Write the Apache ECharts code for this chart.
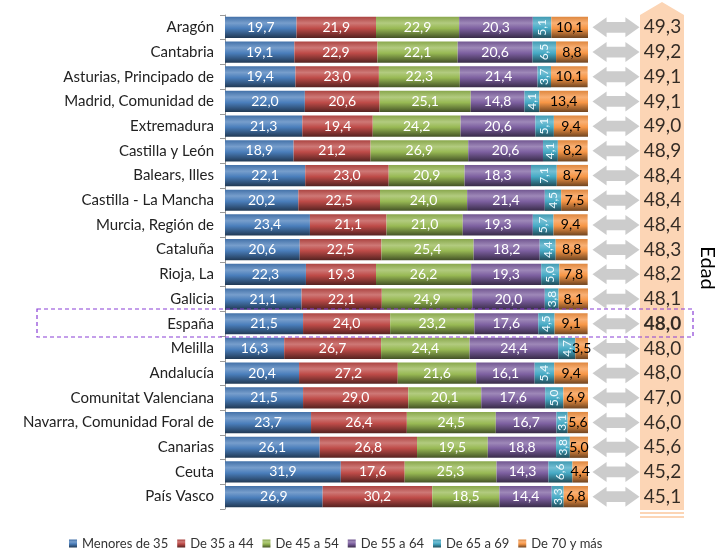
<!DOCTYPE html>
<html>
<head>
<meta charset="utf-8">
<script src="https://cdn.jsdelivr.net/npm/echarts@6/dist/echarts.min.js"></script>
<style>
html, body { margin: 0; padding: 0; background: #fff; }
#chart { width: 725px; height: 551px; }
</style>
</head>
<body>
<div id="chart"></div>
<script>
// datos por comunidad (% de cada grupo de edad) y edad media
const regiones = ['Aragón', 'Cantabria', 'Asturias, Principado de', 'Madrid, Comunidad de', 'Extremadura',
    'Castilla y León', 'Balears, Illes', 'Castilla - La Mancha', 'Murcia, Región de', 'Cataluña',
    'Rioja, La', 'Galicia', 'España', 'Melilla', 'Andalucía', 'Comunitat Valenciana',
    'Navarra, Comunidad Foral de', 'Canarias', 'Ceuta', 'País Vasco'];
const menores35 = [19.7, 19.1, 19.4, 22.0, 21.3, 18.9, 22.1, 20.2, 23.4, 20.6, 22.3, 21.1, 21.5, 16.3, 20.4, 21.5, 23.7, 26.1, 31.9, 26.9];
const de35a44   = [21.9, 22.9, 23.0, 20.6, 19.4, 21.2, 23.0, 22.5, 21.1, 22.5, 19.3, 22.1, 24.0, 26.7, 27.2, 29.0, 26.4, 26.8, 17.6, 30.2];
const de45a54   = [22.9, 22.1, 22.3, 25.1, 24.2, 26.9, 20.9, 24.0, 21.0, 25.4, 26.2, 24.9, 23.2, 24.4, 21.6, 20.1, 24.5, 19.5, 25.3, 18.5];
const de55a64   = [20.3, 20.6, 21.4, 14.8, 20.6, 20.6, 18.3, 21.4, 19.3, 18.2, 19.3, 20.0, 17.6, 24.4, 16.1, 17.6, 16.7, 18.8, 14.3, 14.4];
const de65a69   = [5.1, 6.5, 3.7, 4.1, 5.1, 4.1, 7.1, 4.5, 5.7, 4.4, 5.0, 3.8, 4.5, 4.7, 5.4, 5.0, 3.1, 3.8, 6.6, 3.3];
const de70ymas  = [10.1, 8.8, 10.1, 13.4, 9.4, 8.2, 8.7, 7.5, 9.4, 8.8, 7.8, 8.1, 9.1, 3.5, 9.4, 6.9, 5.6, 5.0, 4.4, 6.8];
const edad      = [49.3, 49.2, 49.1, 49.1, 49.0, 48.9, 48.4, 48.4, 48.4, 48.3, 48.2, 48.1, 48.0, 48.0, 48.0, 47.0, 46.0, 45.6, 45.2, 45.1];

const grupos = ['Menores de 35', 'De 35 a 44', 'De 45 a 54', 'De 55 a 64', 'De 65 a 69', 'De 70 y más'];
const valores = [menores35, de35a44, de45a54, de55a64, de65a69, de70ymas];
const colores = ['#4a7ebb', '#be4b48', '#98b954', '#7d60a0', '#46aac5', '#f79646'];

const fuente = 'Lato';
const coma = v => v.toFixed(1).replace('.', ',');

function mezcla(hex, t, con) {
    const c = parseInt(hex.slice(1), 16);
    let r = c >> 16, g = (c >> 8) & 255, b = c & 255;
    r = Math.round(r + (con - r) * t);
    g = Math.round(g + (con - g) * t);
    b = Math.round(b + (con - b) * t);
    return 'rgb(' + r + ',' + g + ',' + b + ')';
}

function brillo(hex) {
    return new echarts.graphic.LinearGradient(0, 0, 0, 1, [
        { offset: 0, color: mezcla(hex, 0.1, 0) },
        { offset: 0.3, color: mezcla(hex, 0.25, 255) },
        { offset: 0.55, color: hex },
        { offset: 1, color: mezcla(hex, 0.55, 0) }
    ]);
}

const chart = echarts.init(document.getElementById('chart'));

const seriesBarras = grupos.map((g, i) => ({
    name: g,
    type: 'bar',
    stack: 'total',
    xAxisIndex: 0,
    yAxisIndex: 0,
    barCategoryGap: '14%',
    data: valores[i],
    itemStyle: { color: brillo(colores[i]) },
    label: {
        show: true,
        position: 'inside',
        formatter: p => coma(p.value),
        fontFamily: fuente,
        fontSize: i === 4 ? 12 : 14,
        rotate: i === 4 ? 90 : 0,
        color: i === 5 ? '#000' : (i === 4 ? '#eefaff' : '#fff')
    }
}));

const flecha = 'path://M0,5 L6,0 L6,2.3 L14,2.3 L14,0 L20,5 L14,10 L14,7.7 L6,7.7 L6,10 Z';

const option = {
    animation: false,
    color: colores,
    legend: {
        data: grupos,
        left: 64,
        top: 532,
        icon: 'rect',
        itemWidth: 8,
        itemHeight: 8,
        itemGap: 9,
        textStyle: { fontFamily: fuente, fontSize: 13, color: '#333' }
    },
    grid: [
        { left: 225, right: 137, top: 15, bottom: 42 },
        { left: 590, width: 100, top: 15, bottom: 42 }
    ],
    xAxis: [
        { type: 'value', min: 0, max: 100, show: false, gridIndex: 0 },
        { type: 'value', min: 0, max: 100, show: false, gridIndex: 1 }
    ],
    yAxis: [
        {
            type: 'category',
            gridIndex: 0,
            inverse: true,
            data: regiones,
            axisLine: { show: true, lineStyle: { color: '#9a9a9a' } },
            axisTick: { show: true, length: 5, lineStyle: { color: '#9a9a9a' } },
            axisLabel: { fontFamily: fuente, fontSize: 15, color: '#222', margin: 11 }
        },
        { type: 'category', gridIndex: 1, inverse: true, data: regiones, show: false }
    ],
    graphic: [
        {
            type: 'polygon',
            z: -1,
            shape: { points: [[640, 15], [662, 2], [684, 15], [684, 510], [640, 510]] },
            style: { fill: '#fcd5b5' }
        },
        { type: 'rect', z: -1, shape: { x: 640, y: 512, width: 44, height: 2 }, style: { fill: '#fcd5b5' } },
        { type: 'rect', z: -1, shape: { x: 640, y: 516, width: 44, height: 2 }, style: { fill: '#fcd5b5' } },
        {
            type: 'rect',
            z: 100,
            shape: { x: 37, y: 309, width: 656, height: 28 },
            style: { fill: null, stroke: '#8a3fd6', lineWidth: 1.2, lineDash: [4, 3] }
        },
        {
            type: 'text',
            x: 707,
            y: 268,
            rotation: -Math.PI / 2,
            style: { text: 'Edad', fontFamily: fuente, fontSize: 20, fill: '#000', align: 'center', verticalAlign: 'middle' }
        }
    ],
    series: seriesBarras.concat([
        {
            name: 'flechas',
            type: 'scatter',
            xAxisIndex: 1,
            yAxisIndex: 1,
            symbol: flecha,
            symbolSize: [47, 20],
            itemStyle: { color: '#bfbfbf' },
            silent: true,
            data: edad.map(() => 26)
        },
        {
            name: 'edad',
            type: 'scatter',
            xAxisIndex: 1,
            yAxisIndex: 1,
            symbolSize: 1,
            itemStyle: { color: 'rgba(0,0,0,0)' },
            silent: true,
            data: edad.map((v, i) => ({
                value: [72.5, i],
                label: regiones[i] === 'España' ? { fontWeight: 'bold' } : {}
            })),
            label: {
                show: true,
                position: 'inside',
                formatter: p => coma(edad[p.dataIndex]),
                fontFamily: fuente,
                fontSize: 19,
                color: '#000'
            }
        }
    ])
};

chart.setOption(option);
</script>
</body>
</html>
